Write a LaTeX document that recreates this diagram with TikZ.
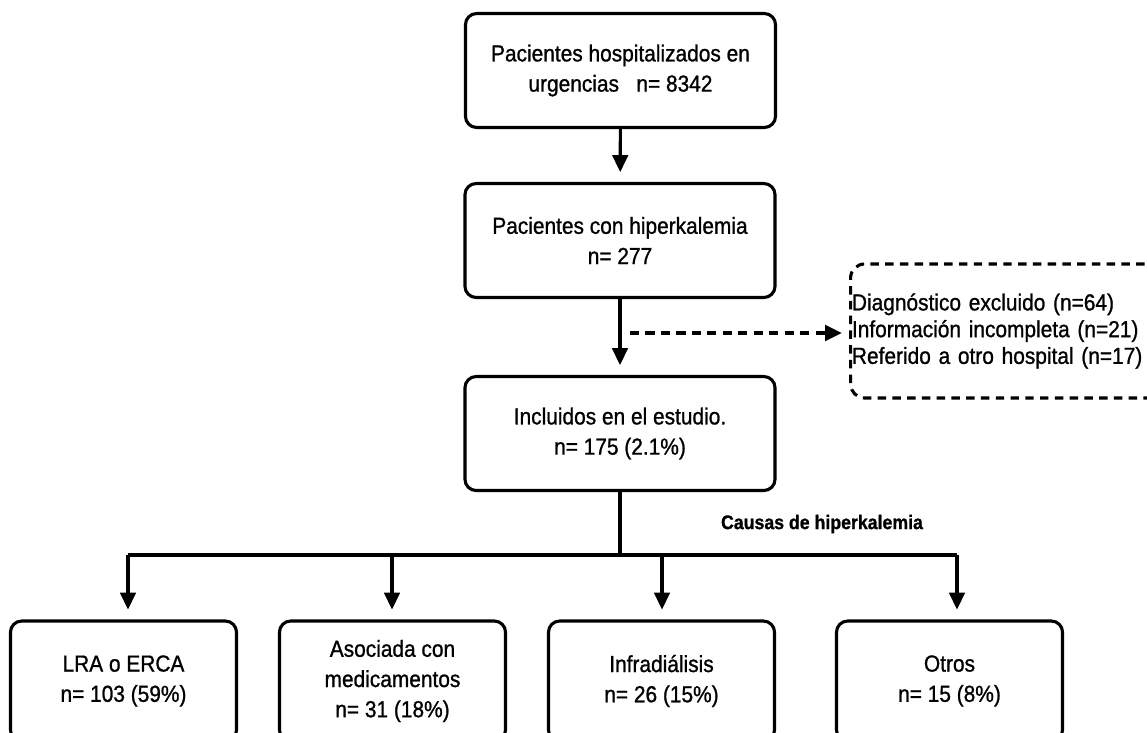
\documentclass[tikz,border=0pt]{standalone}
\usepackage{fontspec}
\setmainfont[FakeBold=1,FakeStretch=0.9]{Liberation Sans}
\usepackage{tikz}
\usetikzlibrary{arrows.meta, positioning}

\tikzset{
    caja/.style={draw, line width=2.2pt, rounded corners=8pt, align=center,
        minimum width=7.75cm, minimum height=2.85cm,
        font=\fontsize{16.5}{21.5}\selectfont},
    causa/.style={caja, minimum width=5.65cm, minimum height=3cm},
    excl/.style={draw, dash pattern=on 6pt off 4.5pt, line width=2.2pt,
        rounded corners=10pt, align=left, text width=8cm, inner xsep=1pt,
        minimum height=3.35cm, font=\fontsize{16.5}{19}\selectfont},
    flecha/.style={line width=2.2pt, -{Triangle[width=11pt,length=12pt]}, shorten >=7pt},
    linea/.style={line width=2.2pt},
    flechapunt/.style={flecha, dash pattern=on 6.5pt off 4.5pt, line width=2.6pt, shorten >=5pt}
}

\begin{document}
\begin{tikzpicture}[x=0.025cm,y=-0.025cm]
        \useasboundingbox (0,0) rectangle (1147,732);
        \clip (0,0) rectangle (1147,732);
        % cajas principales
        \node[caja](hosp) at (620.5,70.5) {Pacientes hospitalizados en\\urgencias\ \ \ n= 8342};
        \node[caja](hiper) at (620,240.5) {Pacientes con hiperkalemia\\n= 277};
        \node[caja](incl) at (620,433.5) {Incluidos en el estudio.\\n= 175 (2.1\%)};
        \node[excl,anchor=west](exclu) at (849,331) {Diagnóstico excluido (n=64)\\Información incompleta (n=21)\\Referido a otro hospital (n=17)};
        % causas
        \node[causa](lra) at (123.5,681) {LRA o ERCA\\n= 103 (59\%)};
        \node[causa](med) at (392.5,681) {Asociada con\\medicamentos\\n= 31 (18\%)};
        \node[causa](infra) at (661.5,681) {Infradiálisis\\n= 26 (15\%)};
        \node[causa](otros) at (949.5,681) {Otros\\n= 15 (8\%)};
        \node[font=\fontsize{14}{16}\selectfont\bfseries](causas) at (822,524) {Causas de hiperkalemia};
        \coordinate (busA) at (128,555);
        \coordinate (busB) at (392,555);
        \coordinate (busC) at (662,555);
        \coordinate (busD) at (957,555);
        \coordinate (dini) at (630,333);
        % conectores
        \draw[flecha] (hosp) -- (hiper);
        \draw[flecha] (hiper) -- (incl);
        \draw[flechapunt] (dini) -- (dini -| exclu.west);
        \draw[linea] (incl.south) -- (incl.south |- busA);
        \draw[linea] (busA) -- (busD);
        \draw[flecha] (busA) -- (busA |- lra.north);
        \draw[flecha] (busB) -- (busB |- med.north);
        \draw[flecha] (busC) -- (busC |- infra.north);
        \draw[flecha] (busD) -- (busD |- otros.north);

\end{tikzpicture}
\end{document}
